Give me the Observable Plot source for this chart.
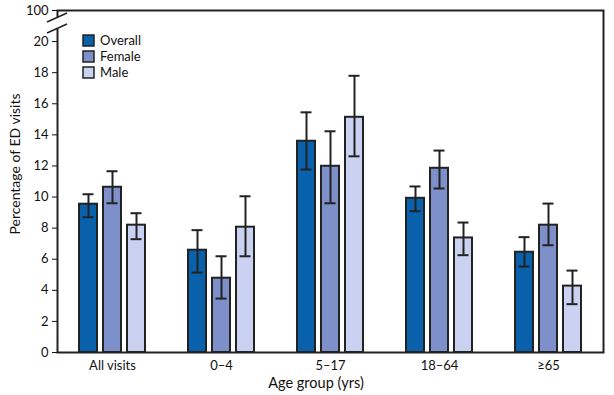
<!DOCTYPE html>
<html>
<head>
<meta charset="utf-8">
<script src="https://cdn.jsdelivr.net/npm/d3@7"></script>
<script src="https://cdn.jsdelivr.net/npm/@observablehq/plot@0.6"></script>
<style>
  html, body { margin: 0; padding: 0; background: #fff; }
  #chart { position: relative; width: 614px; height: 395px; }
  svg { font-family: "Lato", sans-serif; }
</style>
</head>
<body>
<div id="chart"></div>
<script>
const groups = ["All visits", "0–4", "5–17", "18–64", "≥65"];
const series = ["Overall", "Female", "Male"];
const colors = ["#0861aa", "#7d90c9", "#cbd1f0"];
const overall = [9.54, 6.58, 13.59, 9.92, 6.45];
const overallLo = [8.70, 5.14, 11.77, 9.09, 5.53];
const overallHi = [10.18, 7.87, 15.45, 10.68, 7.42];
const female = [10.63, 4.78, 11.98, 11.85, 8.19];
const femaleLo = [9.60, 3.47, 9.60, 10.55, 6.90];
const femaleHi = [11.66, 6.19, 14.23, 12.99, 9.58];
const male = [8.19, 8.06, 15.13, 7.37, 4.27];
const maleLo = [7.29, 6.19, 12.62, 6.26, 3.11];
const maleHi = [8.96, 10.05, 17.80, 8.36, 5.27];
const yTicks = [0, 2, 4, 6, 8, 10, 12, 14, 16, 18, 20];
const yTopTickLabel = "100";
const yTop = 22; // position of the broken-axis top tick

const vals = [overall, female, male];
const los = [overallLo, femaleLo, maleLo];
const his = [overallHi, femaleHi, maleHi];
const data = [];
series.forEach((s, si) => groups.forEach((g, gi) => {
  data.push({group: g, series: s, si, value: vals[si][gi], lo: los[si][gi], hi: his[si][gi]});
}));

const W = 614, H = 395;
const barW = 20, gap = 4, capW = 11;
const bandW = 3 * barW + 2 * gap; // 68
const offsets = [-(barW + gap), 0, barW + gap];

const marks = [];
series.forEach((s, si) => {
  const d = data.filter(r => r.si === si);
  const left = (bandW - barW) / 2 + offsets[si];
  const right = bandW - barW - left;
  marks.push(Plot.barY(d, {x: "group", y: "value", fill: "series",
    stroke: "#222", strokeWidth: 2, insetLeft: left + 1, insetRight: right + 1}));
  marks.push(Plot.ruleX(d, {x: "group", y1: "lo", y2: "hi", dx: offsets[si], stroke: "#222", strokeWidth: 2}));
  const cl = (bandW - capW) / 2 + offsets[si];
  const cr = bandW - capW - cl;
  marks.push(Plot.tickY(d, {x: "group", y: "hi", insetLeft: cl, insetRight: cr, stroke: "#222", strokeWidth: 2}));
  marks.push(Plot.tickY(d, {x: "group", y: "lo", insetLeft: cl, insetRight: cr, stroke: "#222", strokeWidth: 2}));
});

const chart = Plot.plot({
  width: W, height: H,
  marginLeft: 57, marginRight: 11, marginTop: 10, marginBottom: 43,
  style: {fontFamily: "Lato, sans-serif", fontSize: "13px", color: "#111"},
  x: {domain: groups, paddingInner: 0.377, paddingOuter: 0.19, label: null},
  y: {domain: [0, yTop], label: null},
  color: {domain: series, range: colors},
  marks: [
    Plot.axisX({tickSize: 0, tickPadding: 8, fontSize: 13, label: null}),
    Plot.axisY({ticks: [...yTicks, yTop], tickFormat: d => d === yTop ? yTopTickLabel : d, tickSize: 5, tickPadding: 4, fontSize: 13, label: null}),
    ...marks,
    Plot.frame({stroke: "#222", strokeWidth: 2})
  ]
});
document.getElementById("chart").appendChild(chart);

// Broken axis, axis titles and legend
const svg = d3.select(chart);
const y = chart.scale("y");
const x0 = 57;
const yb1 = y.apply(21.52), yb2 = y.apply(20.81);
svg.append("rect").attr("x", x0 - 3).attr("y", yb1).attr("width", 6).attr("height", yb2 - yb1).attr("fill", "#fff");
[yb1, yb2].forEach(yy => {
  svg.append("line").attr("x1", x0 - 10).attr("y1", yy + 4.5).attr("x2", x0 + 10).attr("y2", yy - 4.5)
    .attr("stroke", "#222").attr("stroke-width", 1.5);
});
svg.append("text").attr("transform", `translate(20,164) rotate(-90)`)
  .attr("text-anchor", "middle").attr("font-size", 14).attr("fill", "#111").text("Percentage of ED visits");
svg.append("text").attr("x", 316).attr("y", 388).attr("text-anchor", "middle")
  .attr("font-size", 14.5).attr("fill", "#111").text("Age group (yrs)");
const col = chart.scale("color");
series.forEach((s, i) => {
  const yy = 35 + i * 16;
  svg.append("rect").attr("x", 83).attr("y", yy).attr("width", 11).attr("height", 11)
    .attr("fill", col.apply(s)).attr("stroke", "#222").attr("stroke-width", 1.5);
  svg.append("text").attr("x", 100).attr("y", yy + 10).attr("text-anchor", "start")
    .attr("font-size", 13).attr("fill", "#111").text(s);
});
</script>
</body>
</html>
